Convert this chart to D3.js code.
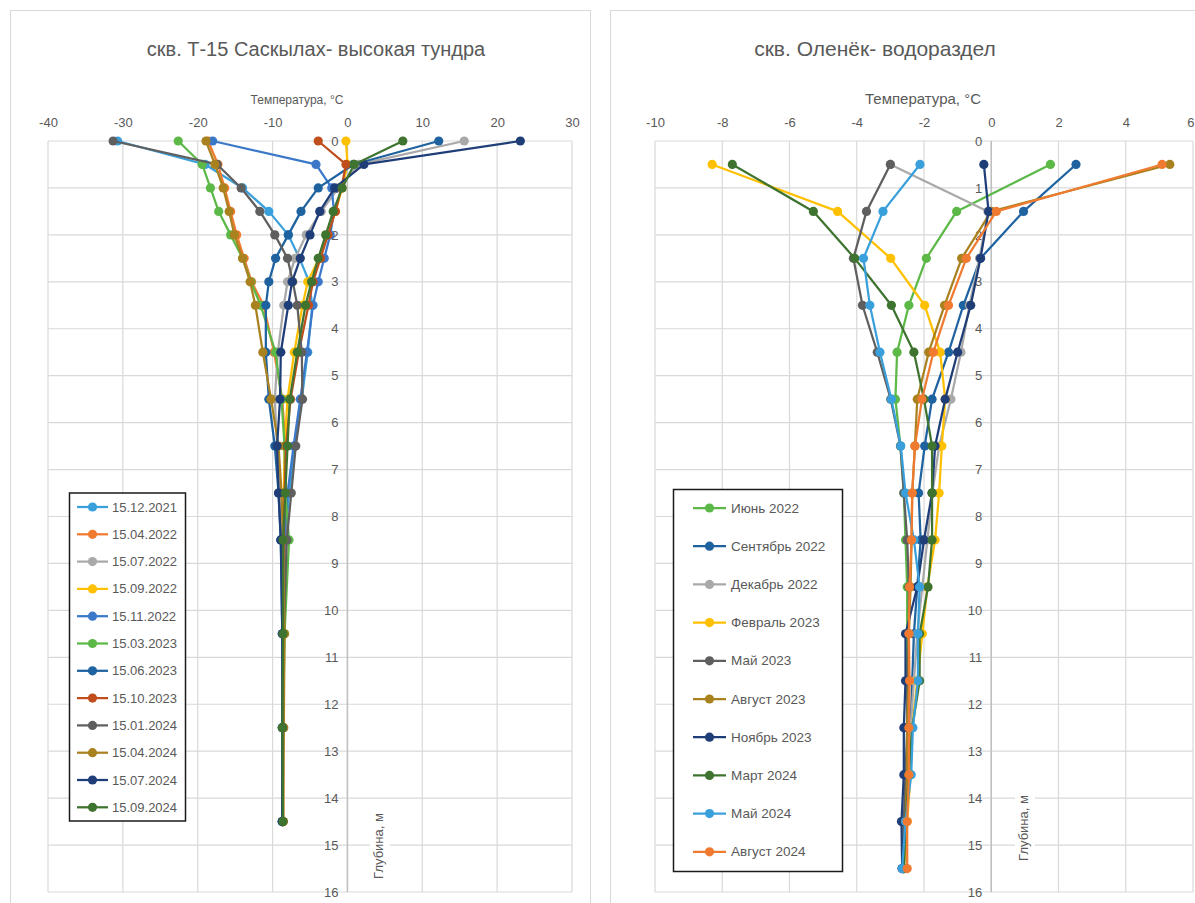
<!DOCTYPE html>
<html>
<head>
<meta charset="utf-8">
<script src="https://cdn.jsdelivr.net/npm/d3@7"></script>
<style>
  html, body { margin: 0; padding: 0; background: #fff; }
  svg { display: block; }
  text { font-family: "Liberation Sans", Arial, sans-serif; fill: #595959; }
</style>
</head>
<body>
<svg id="chart" width="1195" height="903"></svg>
<script>
// ---------------- LEFT CHART DATA ----------------
const leftTitle = "скв. Т-15 Саскылах- высокая тундра";
const leftXTicks = [-40, -30, -20, -10, 0, 10, 20, 30];
const leftYTicks = [0,1,2,3,4,5,6,7,8,9,10,11,12,13,14,15,16];
const leftDepths = [0, 0.5, 1, 1.5, 2, 2.5, 3, 3.5, 4.5, 5.5, 6.5, 7.5, 8.5, 10.5, 12.5, 14.5];
const leftNames = ["15.12.2021","15.04.2022","15.07.2022","15.09.2022","15.11.2022","15.03.2023",
                   "15.06.2023","15.10.2023","15.01.2024","15.04.2024","15.07.2024","15.09.2024"];
const leftColors = ["#3AA0DC","#F07B30","#A9A9A9","#FFC000","#3B78C8","#5CB947",
                    "#1F62A0","#BF4E1C","#5F5F5F","#A9821F","#1F3E78","#3F7430"];
const L_15_12_2021 = [-30.7, -19.0, -14.0, -10.5, -7.9, -6.4, -5.1, -4.7, -5.3, -6.1, -7.0, -7.8, -8.3, -8.5, -8.6, -8.7];
const L_15_04_2022 = [-18.6, -17.3, -16.4, -15.6, -14.8, -13.8, -12.8, -11.2, -9.8, -8.7, -8.3, -8.2, -8.3, -8.5, -8.6, -8.6];
const L_15_07_2022 = [15.6, 1.5, -1.2, -3.5, -5.5, -7.0, -8.0, -8.5, -9.3, -9.7, -9.4, -9.0, -8.7, -8.6, -8.6, -8.6];
const L_15_09_2022 = [-0.2, 0.0, -0.7, -1.6, -2.6, -3.8, -5.3, -6.0, -7.1, -8.0, -8.4, -8.5, -8.5, -8.6, -8.6, -8.6];
const L_15_11_2022 = [-18.0, -4.2, -2.1, -1.8, -2.3, -3.1, -3.9, -4.6, -5.4, -6.3, -7.2, -8.0, -8.4, -8.5, -8.6, -8.7];
const L_15_03_2023 = [-22.6, -19.4, -18.3, -17.2, -15.6, -14.0, -12.9, -11.6, -9.6, -8.8, -8.4, -8.3, -7.8, -8.4, -8.6, -8.7];
const L_15_06_2023 = [12.2, 0.8, -3.9, -6.2, -7.9, -9.6, -10.5, -10.9, -10.9, -10.5, -9.7, -9.2, -8.9, -8.7, -8.7, -8.7];
const L_15_10_2023 = [-3.9, -0.2, -0.8, -1.6, -2.6, -3.6, -4.6, -5.2, -6.5, -7.6, -8.2, -8.4, -8.5, -8.6, -8.6, -8.6];
const L_15_01_2024 = [-31.3, -17.4, -14.2, -11.7, -9.7, -8.0, -7.3, -6.7, -6.1, -6.0, -6.9, -7.5, -8.1, -8.5, -8.6, -8.7];
const L_15_04_2024 = [-18.9, -17.7, -16.6, -15.8, -15.1, -14.0, -13.0, -12.3, -11.3, -10.2, -9.2, -8.8, -8.6, -8.4, -8.5, -8.6];
const L_15_07_2024 = [23.1, 2.2, -1.7, -3.7, -5.0, -6.3, -7.4, -7.9, -8.9, -9.0, -9.4, -9.2, -8.9, -8.7, -8.7, -8.7];
const L_15_09_2024 = [7.4, 0.9, -0.7, -1.9, -2.9, -3.9, -4.8, -5.6, -6.7, -7.7, -8.0, -8.3, -8.6, -8.6, -8.7, -8.6];

// ---------------- RIGHT CHART DATA ----------------
const rightTitle = "скв. Оленёк- водораздел";
const rightXTicks = [-10, -8, -6, -4, -2, 0, 2, 4, 6];
const rightYTicks = [0,1,2,3,4,5,6,7,8,9,10,11,12,13,14,15,16];
const rightDepths = [0.5, 1.5, 2.5, 3.5, 4.5, 5.5, 6.5, 7.5, 8.5, 9.5, 10.5, 11.5, 12.5, 13.5, 14.5, 15.5];
const rightNames = ["Июнь 2022","Сентябрь 2022","Декабрь 2022","Февраль 2023","Май 2023",
                    "Август 2023","Ноябрь 2023","Март 2024","Май 2024","Август 2024"];
const rightColors = ["#5CB947","#1F62A0","#A9A9A9","#FFC000","#5F5F5F",
                     "#A9821F","#1F3E78","#3F7430","#3AA0DC","#F07B30"];
const R_iyun_2022     = [1.76, -1.03, -1.93, -2.45, -2.8, -2.85, -2.7, -2.6, -2.55, -2.5, -2.5, -2.5, -2.45, -2.5, -2.55, -2.6];
const R_sent_2022     = [2.52, 0.96, -0.32, -0.83, -1.27, -1.76, -1.98, -2.16, -2.1, -2.2, -2.3, -2.35, -2.4, -2.45, -2.55, -2.6];
const R_dek_2022      = [-3.0, -0.1, -0.35, -0.65, -0.9, -1.2, -1.55, -1.75, -1.9, -2.05, -2.2, -2.3, -2.4, -2.45, -2.55, -2.6];
const R_fev_2023      = [-8.3, -4.57, -2.99, -1.98, -1.52, -1.37, -1.47, -1.55, -1.67, -1.9, -2.05, -2.2, -2.35, -2.4, -2.5, -2.6];
const R_mai_2023      = [-3.0, -3.71, -4.1, -3.83, -3.39, -2.99, -2.7, -2.6, -2.5, -2.45, -2.45, -2.5, -2.5, -2.55, -2.6, -2.65];
const R_avg_2023      = [5.31, 0.0, -0.88, -1.39, -1.86, -2.2, -2.27, -2.35, -2.37, -2.4, -2.45, -2.45, -2.5, -2.5, -2.55, -2.6];
const R_noy_2023      = [-0.22, -0.08, -0.32, -0.61, -1.0, -1.37, -1.67, -1.76, -2.0, -2.2, -2.55, -2.55, -2.6, -2.6, -2.67, -2.65];
const R_mart_2024     = [-7.7, -5.29, -4.06, -2.97, -2.3, -2.0, -1.76, -1.76, -1.76, -1.88, -2.13, -2.13, -2.35, -2.45, -2.55, -2.6];
const R_mai_2024      = [-2.12, -3.22, -3.8, -3.61, -3.31, -2.97, -2.69, -2.55, -2.3, -2.13, -2.18, -2.18, -2.33, -2.38, -2.55, -2.65];
const R_avg_2024      = [5.08, 0.15, -0.74, -1.27, -1.72, -2.06, -2.27, -2.35, -2.37, -2.43, -2.45, -2.43, -2.45, -2.45, -2.5, -2.5];

const leftValues = [L_15_12_2021, L_15_04_2022, L_15_07_2022, L_15_09_2022, L_15_11_2022, L_15_03_2023,
                    L_15_06_2023, L_15_10_2023, L_15_01_2024, L_15_04_2024, L_15_07_2024, L_15_09_2024];
const rightValues = [R_iyun_2022, R_sent_2022, R_dek_2022, R_fev_2023, R_mai_2023,
                     R_avg_2023, R_noy_2023, R_mart_2024, R_mai_2024, R_avg_2024];

const svg = d3.select("#chart");
svg.append("rect").attr("width", 1195).attr("height", 903).attr("fill", "#fff");

function drawChart(cfg) {
  const g = svg.append("g");
  g.append("rect").attr("x", cfg.frame[0]).attr("y", cfg.frame[1])
    .attr("width", cfg.frame[2]).attr("height", cfg.frame[3])
    .attr("fill", "none").attr("stroke", "#d9d9d9").attr("stroke-width", 1);

  const x = d3.scaleLinear().domain(cfg.xDomain).range(cfg.xRange);
  const y = d3.scaleLinear().domain([0, 16]).range([141, 892]);

  g.append("g").selectAll("line").data(cfg.xTicks).join("line")
    .attr("x1", d => x(d)).attr("x2", d => x(d)).attr("y1", y(0)).attr("y2", y(16))
    .attr("stroke", "#d9d9d9").attr("stroke-width", 1.2);
  g.append("g").selectAll("line").data(cfg.yTicks).join("line")
    .attr("x1", x(cfg.xDomain[0])).attr("x2", x(cfg.xDomain[1])).attr("y1", d => y(d)).attr("y2", d => y(d))
    .attr("stroke", "#d9d9d9").attr("stroke-width", 1.2);
  g.append("line").attr("x1", x(0)).attr("x2", x(0)).attr("y1", y(0)).attr("y2", y(16))
    .attr("stroke", "#bfbfbf").attr("stroke-width", 1.5);

  const fmt = d => String(d);
  const xAxis = d3.axisTop(x).tickValues(cfg.xTicks).tickSize(0).tickPadding(0).tickFormat(fmt);
  const xa = g.append("g").attr("transform", "translate(0,127)").call(xAxis);
  xa.select(".domain").remove();
  xa.selectAll("text").attr("font-size", 13).attr("fill", "#595959")
    .attr("font-family", "Liberation Sans, Arial, sans-serif").attr("dy", 0);
  if (cfg.lastTickEnd) {
    xa.selectAll(".tick").filter(d => d === cfg.xTicks[cfg.xTicks.length - 1])
      .select("text").attr("text-anchor", "end").attr("x", 1195 - x(cfg.xDomain[1]) - 1);
  }

  const yAxis = d3.axisLeft(y).tickValues(cfg.yTicks).tickSize(0).tickPadding(0).tickFormat(fmt);
  const ya = g.append("g").attr("transform", `translate(${x(0) - 9},0)`).call(yAxis);
  ya.select(".domain").remove();
  ya.selectAll("text").attr("font-size", 13).attr("fill", "#595959")
    .attr("font-family", "Liberation Sans, Arial, sans-serif");

  g.append("text").attr("x", cfg.titleX).attr("y", 56).attr("text-anchor", "middle")
    .attr("font-size", cfg.titleSize).text(cfg.title);
  g.append("text").attr("x", cfg.xTitleX).attr("y", 104).attr("text-anchor", "middle")
    .attr("font-size", cfg.xTitleSize).text("Температура, °С");

  const yt = g.append("g").attr("transform", `translate(${cfg.yTitleX},${cfg.yTitleY}) rotate(-90)`);
  yt.append("rect").attr("x", -40).attr("y", -13).attr("width", 80).attr("height", 20).attr("fill", "#fff");
  yt.append("text").attr("x", 0).attr("y", 0).attr("text-anchor", "middle")
    .attr("font-size", 13).text("Глубина, м");

  const line = d3.line().x(d => x(d.t)).y(d => y(d.d));
  cfg.values.forEach((vals, i) => {
    const pts = vals.map((t, k) => ({ t, d: cfg.depths[k] }));
    const sg = g.append("g");
    sg.append("path").datum(pts).attr("d", line).attr("fill", "none")
      .attr("stroke", cfg.colors[i]).attr("stroke-width", 2.25).attr("stroke-linejoin", "round");
    sg.selectAll("circle").data(pts).join("circle")
      .attr("cx", d => x(d.t)).attr("cy", d => y(d.d)).attr("r", 4.6)
      .attr("fill", cfg.colors[i]);
  });

  const lg = g.append("g");
  lg.append("rect").attr("x", cfg.legend.x).attr("y", cfg.legend.y)
    .attr("width", cfg.legend.w).attr("height", cfg.legend.h)
    .attr("fill", "#fff").attr("stroke", "#1a1a1a").attr("stroke-width", 1.5);
  cfg.names.forEach((n, i) => {
    const yy = cfg.legend.y0 + i * cfg.legend.step;
    lg.append("line").attr("x1", cfg.legend.lx1).attr("x2", cfg.legend.lx2)
      .attr("y1", yy).attr("y2", yy).attr("stroke", cfg.colors[i]).attr("stroke-width", 2.25);
    lg.append("circle").attr("cx", (cfg.legend.lx1 + cfg.legend.lx2) / 2).attr("cy", yy)
      .attr("r", 4.6).attr("fill", cfg.colors[i]);
    lg.append("text").attr("x", cfg.legend.tx).attr("y", yy + 4.5)
      .attr("font-size", cfg.legend.fs).text(n);
  });
}

drawChart({
  frame: [10.5, 10.5, 580, 900],
  xDomain: [-40, 30], xRange: [48, 572],
  xTicks: leftXTicks, yTicks: leftYTicks,
  title: leftTitle, titleX: 316, titleSize: 20, xTitleX: 297, xTitleSize: 12,
  yTitleX: 383, yTitleY: 846,
  depths: leftDepths, values: leftValues, colors: leftColors, names: leftNames,
  legend: { x: 69.5, y: 493, w: 116, h: 328, y0: 507, step: 27.3, lx1: 77, lx2: 108, tx: 112, fs: 13 }
});

drawChart({
  frame: [610.5, 10.5, 590, 900],
  xDomain: [-10, 6], xRange: [655, 1193],
  xTicks: rightXTicks, yTicks: rightYTicks, lastTickEnd: true,
  title: rightTitle, titleX: 875, titleSize: 21, xTitleX: 923, xTitleSize: 15,
  yTitleX: 1028, yTitleY: 828,
  depths: rightDepths, values: rightValues, colors: rightColors, names: rightNames,
  legend: { x: 673.5, y: 489.5, w: 169, h: 382, y0: 508, step: 38.2, lx1: 693, lx2: 726, tx: 731, fs: 13.5 }
});
</script>
</body>
</html>
